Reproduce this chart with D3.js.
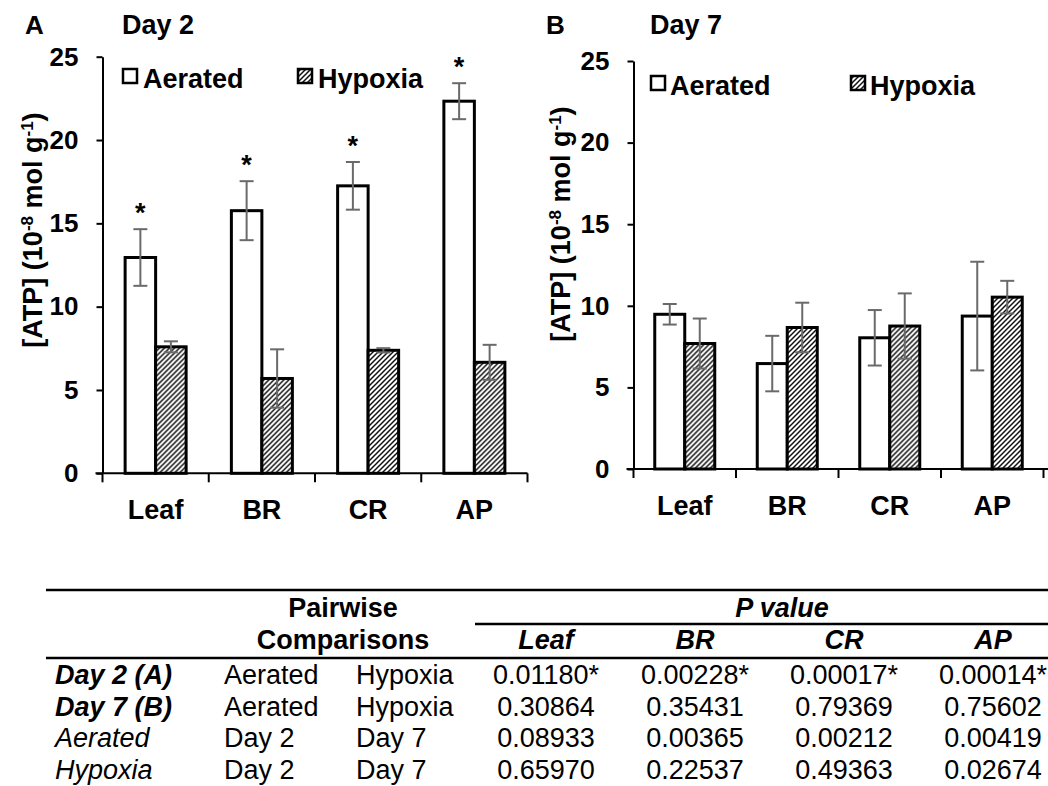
<!DOCTYPE html>
<html>
<head>
<meta charset="utf-8">
<script src="https://cdn.jsdelivr.net/npm/d3@7"></script>
<style>
  html, body { margin: 0; padding: 0; background: #fff; }
  svg { display: block; }
  text { font-family: "Liberation Sans", Arial, Helvetica, sans-serif; fill: #000; }
</style>
</head>
<body>
<svg id="chart" width="1048" height="786"></svg>
<script>
// ---------------- DATA ----------------
const categories = ["Leaf", "BR", "CR", "AP"];
const seriesNames = ["Aerated", "Hypoxia"];
const yTicks = [0, 5, 10, 15, 20, 25];

// Panel A: Day 2
const day2Aerated     = [12.95, 15.76, 17.25, 22.33];
const day2AeratedErr  = [1.70, 1.77, 1.43, 1.08];
const day2Hypoxia     = [7.59, 5.69, 7.38, 6.66];
const day2HypoxiaErr  = [0.33, 1.75, 0.13, 1.05];
const day2Stars       = [true, true, true, true];

// Panel B: Day 7
const day7Aerated     = [9.48, 6.46, 8.04, 9.37];
const day7AeratedErr  = [0.63, 1.70, 1.70, 3.33];
const day7Hypoxia     = [7.69, 8.67, 8.76, 10.53];
const day7HypoxiaErr  = [1.53, 1.52, 2.00, 1.00];
const day7Stars       = [false, false, false, false];

// Table
const tableRowLabels = ["Day 2 (A)", "Day 7 (B)", "Aerated", "Hypoxia"];
const tableRowStyle  = ["bolditalic", "bolditalic", "italic", "italic"];
const tableCompA     = ["Aerated", "Aerated", "Day 2", "Day 2"];
const tableCompB     = ["Hypoxia", "Hypoxia", "Day 7", "Day 7"];
const pLeaf = ["0.01180*", "0.30864", "0.08933", "0.65970"];
const pBR   = ["0.00228*", "0.35431", "0.00365", "0.22537"];
const pCR   = ["0.00017*", "0.79369", "0.00212", "0.49363"];
const pAP   = ["0.00014*", "0.75602", "0.00419", "0.02674"];

// ---------------- DRAW ----------------
const svg = d3.select("#chart");
const defs = svg.append("defs");
const pat = defs.append("pattern")
  .attr("id", "hatch").attr("patternUnits", "userSpaceOnUse")
  .attr("width", 5).attr("height", 5);
pat.append("rect").attr("width", 5).attr("height", 5).attr("fill", "#fff");
pat.append("path").attr("d", "M-1,1 L1,-1 M0,5 L5,0 M4,6 L6,4")
  .attr("stroke", "#111").attr("stroke-width", 1.5);

function panel(cfg) {
  const g = svg.append("g");
  const y = d3.scaleLinear().domain([0, 25]).range([cfg.y0, cfg.y25]);
  const x0 = d3.scaleBand().domain(categories)
    .range([cfg.axisX, cfg.axisX + cfg.catW * categories.length]).padding(0);
  const x1 = d3.scaleBand().domain(seriesNames)
    .range([cfg.catW / 2 - cfg.barW, cfg.catW / 2 + cfg.barW]).padding(0);

  // panel letter + title
  g.append("text").attr("x", cfg.letterX).attr("y", 34)
    .attr("font-size", 26).attr("font-weight", "bold").text(cfg.letter);
  g.append("text").attr("x", cfg.titleX).attr("y", 34)
    .attr("font-size", 27).attr("font-weight", "bold").text(cfg.title);

  // y axis
  const yAxis = d3.axisLeft(y).tickValues(yTicks).tickSize(6).tickSizeOuter(0)
    .tickPadding(cfg.tickPad).tickFormat(d3.format("d"));
  const ya = g.append("g").attr("transform", `translate(${cfg.axisX},0)`).call(yAxis);
  ya.select(".domain").attr("stroke", "#000").attr("stroke-width", 2);
  ya.selectAll(".tick line").attr("stroke", "#000").attr("stroke-width", 2);
  ya.selectAll(".tick text").attr("font-size", 26).attr("font-weight", "bold")
    .attr("font-family", '"Liberation Sans", Arial, sans-serif').attr("fill", "#000");

  // y label
  const lbl = g.append("text")
    .attr("transform", `translate(${cfg.labelX},${cfg.labelY}) rotate(-90)`)
    .attr("text-anchor", "middle").attr("font-size", 27).attr("font-weight", "bold");
  lbl.append("tspan").text(cfg.labelPre);
  lbl.append("tspan").attr("font-size", 17).attr("baseline-shift", "super").text("-8");
  lbl.append("tspan").text(" mol g");
  lbl.append("tspan").attr("font-size", 17).attr("baseline-shift", "super").text("-1");
  lbl.append("tspan").text(")");

  // bars
  const data = categories.map((c, i) => ({
    c, i,
    vals: [
      { s: "Aerated", v: cfg.aer[i], e: cfg.aerErr[i] },
      { s: "Hypoxia", v: cfg.hyp[i], e: cfg.hypErr[i] }
    ],
    star: cfg.stars[i]
  }));
  const grp = g.selectAll(".grp").data(data).enter().append("g")
    .attr("transform", d => `translate(${x0(d.c)},0)`);
  grp.selectAll("rect").data(d => d.vals).enter().append("rect")
    .attr("x", d => x1(d.s))
    .attr("width", x1.bandwidth())
    .attr("y", d => y(d.v))
    .attr("height", d => y(0) - y(d.v))
    .attr("fill", d => d.s === "Aerated" ? "#fff" : "url(#hatch)")
    .attr("stroke", "#000").attr("stroke-width", 3);

  // error bars
  const eb = grp.selectAll(".err").data(d => d.vals).enter().append("g")
    .attr("stroke", "#6a6a6a").attr("stroke-width", 2);
  eb.append("line")
    .attr("x1", d => x1(d.s) + x1.bandwidth() / 2).attr("x2", d => x1(d.s) + x1.bandwidth() / 2)
    .attr("y1", d => y(d.v + d.e)).attr("y2", d => y(d.v - d.e));
  eb.append("line")
    .attr("x1", d => x1(d.s) + x1.bandwidth() / 2 - 7).attr("x2", d => x1(d.s) + x1.bandwidth() / 2 + 7)
    .attr("y1", d => y(d.v + d.e)).attr("y2", d => y(d.v + d.e));
  eb.append("line")
    .attr("x1", d => x1(d.s) + x1.bandwidth() / 2 - 7).attr("x2", d => x1(d.s) + x1.bandwidth() / 2 + 7)
    .attr("y1", d => y(d.v - d.e)).attr("y2", d => y(d.v - d.e));

  // stars
  grp.filter(d => d.star).append("text")
    .attr("x", x1("Aerated") + x1.bandwidth() / 2)
    .attr("y", d => y(d.vals[0].v + d.vals[0].e) - 7)
    .attr("text-anchor", "middle").attr("font-size", 27).attr("font-weight", "bold")
    .text("*");

  // x axis line + boundary ticks
  g.append("line").attr("x1", cfg.axisX - 7).attr("x2", cfg.xEnd)
    .attr("y1", y(0)).attr("y2", y(0)).attr("stroke", "#000").attr("stroke-width", 2);
  const bounds = d3.range(categories.length + 1).map(i => cfg.axisX + i * x0.bandwidth());
  g.selectAll(".bt").data(bounds).enter().append("line")
    .attr("x1", d => d).attr("x2", d => d)
    .attr("y1", y(0)).attr("y2", y(0) + 9)
    .attr("stroke", "#000").attr("stroke-width", 2);
  g.selectAll(".cl").data(categories).enter().append("text")
    .attr("x", d => x0(d) + x0.bandwidth() / 2)
    .attr("y", y(0) + 46)
    .attr("text-anchor", "middle").attr("font-size", 27).attr("font-weight", "bold")
    .text(d => d);

  // legend
  const lg = g.append("g");
  cfg.legend.forEach((L, k) => {
    lg.append("rect").attr("x", L.bx).attr("y", L.by).attr("width", 14).attr("height", 14)
      .attr("fill", k === 0 ? "#fff" : "url(#hatch)")
      .attr("stroke", "#000").attr("stroke-width", 2.5);
    lg.append("text").attr("x", L.tx).attr("y", L.by + 19)
      .attr("font-size", 27).attr("font-weight", "bold").text(seriesNames[k]);
  });
}

panel({
  letter: "A", letterX: 25, title: "Day 2", titleX: 122,
  axisX: 102.5, catW: 106.25, barW: 30.5, y0: 473.3, y25: 56.7, tickPad: 18,
  xEnd: 527.5, labelX: 42, labelY: 230, labelPre: "[ATP] (10",
  aer: day2Aerated, aerErr: day2AeratedErr, hyp: day2Hypoxia, hypErr: day2HypoxiaErr,
  stars: day2Stars,
  legend: [{ bx: 123, by: 69, tx: 143 }, { bx: 298, by: 69, tx: 318 }]
});
panel({
  letter: "B", letterX: 546, title: "Day 7", titleX: 650,
  axisX: 633.5, catW: 102.5, barW: 30, y0: 469, y25: 61, tickPad: 18,
  xEnd: 1048, labelX: 570, labelY: 224, labelPre: "[ATP]  (10",
  aer: day7Aerated, aerErr: day7AeratedErr, hyp: day7Hypoxia, hypErr: day7HypoxiaErr,
  stars: day7Stars,
  legend: [{ bx: 651, by: 76, tx: 670 }, { bx: 851, by: 76, tx: 870 }]
});

// ---------------- TABLE ----------------
const tg = svg.append("g");
const tfs = 27;
const lineW = 2.5;
tg.append("line").attr("x1", 46).attr("x2", 1048).attr("y1", 590).attr("y2", 590)
  .attr("stroke", "#000").attr("stroke-width", lineW);
tg.append("line").attr("x1", 475).attr("x2", 1048).attr("y1", 624).attr("y2", 624)
  .attr("stroke", "#000").attr("stroke-width", lineW);
tg.append("line").attr("x1", 46).attr("x2", 1048).attr("y1", 658).attr("y2", 658)
  .attr("stroke", "#000").attr("stroke-width", lineW);

tg.append("text").attr("x", 343).attr("y", 617).attr("text-anchor", "middle")
  .attr("font-size", tfs).attr("font-weight", "bold").text("Pairwise");
tg.append("text").attr("x", 343).attr("y", 649).attr("text-anchor", "middle")
  .attr("font-size", tfs).attr("font-weight", "bold").text("Comparisons");
tg.append("text").attr("x", 782).attr("y", 617).attr("text-anchor", "middle")
  .attr("font-size", tfs).attr("font-weight", "bold").attr("font-style", "italic").text("P value");

const colX = d3.scalePoint().domain(categories).range([546, 993]);
tg.selectAll(".ch").data(categories).enter().append("text")
  .attr("x", d => colX(d)).attr("y", 649).attr("text-anchor", "middle")
  .attr("font-size", tfs).attr("font-weight", "bold").attr("font-style", "italic")
  .text(d => d);

const rowY = d3.scalePoint().domain(d3.range(4)).range([684, 779]);
const pCols = [pLeaf, pBR, pCR, pAP];
d3.range(4).forEach(r => {
  const yy = rowY(r);
  tg.append("text").attr("x", 55).attr("y", yy).attr("font-size", tfs)
    .attr("font-weight", tableRowStyle[r] === "bolditalic" ? "bold" : "normal")
    .attr("font-style", "italic").text(tableRowLabels[r]);
  tg.append("text").attr("x", 224).attr("y", yy).attr("font-size", tfs).text(tableCompA[r]);
  tg.append("text").attr("x", 356).attr("y", yy).attr("font-size", tfs).text(tableCompB[r]);
  categories.forEach((c, ci) => {
    tg.append("text").attr("x", colX(c)).attr("y", yy).attr("text-anchor", "middle")
      .attr("font-size", tfs).text(pCols[ci][r]);
  });
});
</script>
</body>
</html>
